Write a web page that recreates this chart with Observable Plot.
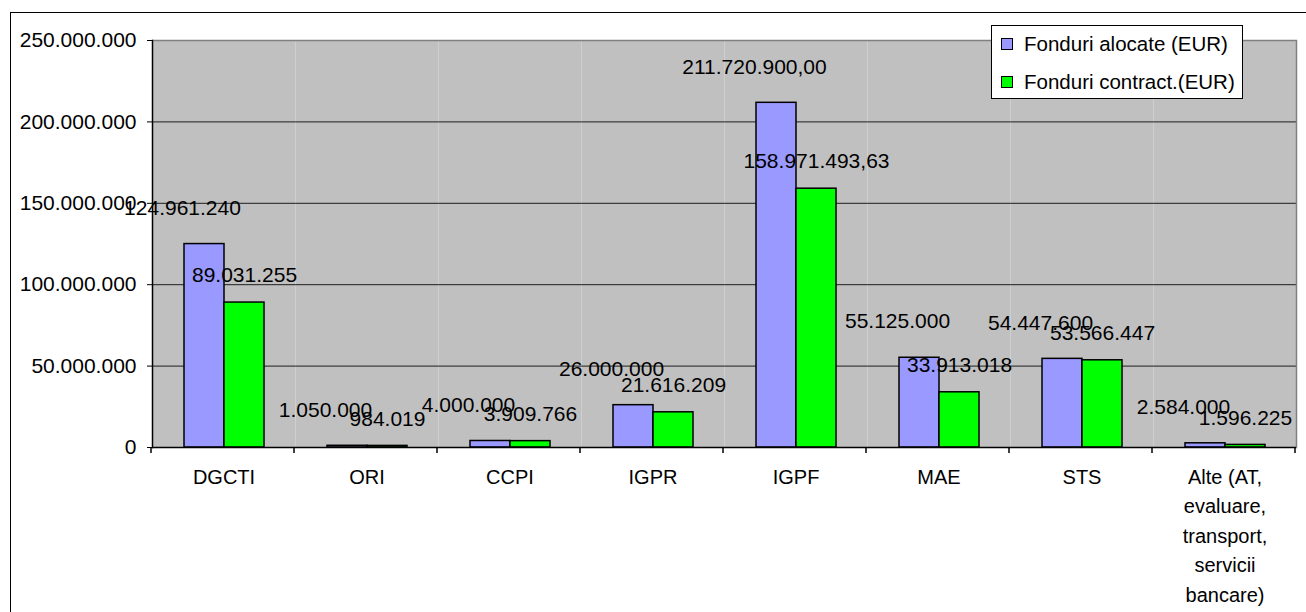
<!DOCTYPE html>
<html>
<head>
<meta charset="utf-8">
<script src="https://cdn.jsdelivr.net/npm/d3@7"></script>
<script src="https://cdn.jsdelivr.net/npm/@observablehq/plot@0.6"></script>
<style>
  html, body { margin: 0; padding: 0; background: #fff; overflow: hidden; }
  #wrap { position: relative; width: 1306px; height: 612px; overflow: hidden; font-family: "Liberation Sans", Arial, sans-serif; }
  #border { position: absolute; left: 10px; top: 12px; width: 1400px; height: 700px; border: 1px solid #000; box-sizing: border-box; }
  #chart { position: absolute; left: 0; top: 0; }
  #legend { position: absolute; left: 991px; top: 25px; width: 252px; height: 74px; border: 1px solid #000; background: #fff; box-sizing: border-box; }
  .item { position: absolute; left: 9px; display: flex; align-items: center; font-size: 20.5px; color: #000; white-space: nowrap; }
  .sw { width: 10px; height: 10px; border: 1px solid #000; margin-right: 11px; }
</style>
</head>
<body>
<div id="wrap">
  <div id="border"></div>
  <div id="chart"></div>
  <div id="legend"></div>
</div>
<script>
const categories = ["DGCTI", "ORI", "CCPI", "IGPR", "IGPF", "MAE", "STS", "Alte (AT, evaluare, transport, servicii bancare)"];
const tickLabels = ["DGCTI", "ORI", "CCPI", "IGPR", "IGPF", "MAE", "STS", "Alte (AT,\nevaluare,\ntransport,\nservicii\nbancare)"];
const series = ["Fonduri alocate (EUR)", "Fonduri contract.(EUR)"];
const colors = ["#9999FF", "#00FF00"];
const alocate = [124961240, 1050000, 4000000, 26000000, 211720900.00, 55125000, 54447600, 2584000];
const contractate = [89031255, 984019, 3909766, 21616209, 158971493.63, 33913018, 53566447, 1596225];
const alocateLabels = ["124.961.240", "1.050.000", "4.000.000", "26.000.000", "211.720.900,00", "55.125.000", "54.447.600", "2.584.000"];
const contractLabels = ["89.031.255", "984.019", "3.909.766", "21.616.209", "158.971.493,63", "33.913.018", "53.566.447", "1.596.225"];
const yTicks = [0, 50000000, 100000000, 150000000, 200000000, 250000000];

const rows = [];
categories.forEach((c, i) => {
  rows.push({category: c, series: series[0], value: alocate[i], label: alocateLabels[i]});
  rows.push({category: c, series: series[1], value: contractate[i], label: contractLabels[i]});
});
const rowsA = rows.filter(d => d.series === series[0]);
const rowsC = rows.filter(d => d.series === series[1]);

const loc = d3.formatLocale({decimal: ",", thousands: ".", grouping: [3], currency: ["", ""]});
const fmt = loc.format(",");

const plot = Plot.plot({
  width: 1306,
  height: 612,
  marginLeft: 151,
  marginRight: 9,
  marginTop: 40,
  marginBottom: 165,
  style: {fontFamily: "'Liberation Sans', Arial, sans-serif", fontSize: "21px", color: "#000", background: "transparent"},
  fx: {domain: categories, padding: 0, label: null},
  x: {domain: series, paddingInner: 0, paddingOuter: 0.77, axis: null},
  y: {domain: [0, 250000000], label: null},
  color: {domain: series, range: colors},
  marks: [
    Plot.frame({fill: "#C0C0C0", stroke: null}),
    Plot.gridY(yTicks, {stroke: "#000", strokeOpacity: 0.85, strokeWidth: 1}),
    Plot.ruleY([250000000], {stroke: "#808080", strokeWidth: 1.5}),
    Plot.frame({anchor: "right", stroke: "#808080", strokeWidth: 1.5, fx: [categories[categories.length - 1]]}),
    Plot.barY(rows, {fx: "category", x: "series", y: "value", fill: "series", stroke: "#000", strokeWidth: 1.5}),
    Plot.ruleY([0], {stroke: "#000", strokeWidth: 1.5}),
    Plot.frame({anchor: "left", stroke: "#000", strokeWidth: 1.5, fx: [categories[0]]}),
    Plot.axisY(yTicks, {tickFormat: fmt, tickSize: 5, tickPadding: 11, fontSize: 21, label: null, stroke: "#000"}),
    Plot.axisFx({anchor: "bottom", tickSize: 0, tickPadding: 15, fontSize: 20, lineHeight: 1.48, label: null,
      tickFormat: (d) => tickLabels[categories.indexOf(d)]}),
    Plot.text(rowsA, {fx: "category", x: "series", y: "value", text: "label", dx: -22, dy: -36, fontSize: 21, fill: "#000"}),
    Plot.text(rowsC, {fx: "category", x: "series", y: "value", text: "label", dy: -27, fontSize: 21, fill: "#000"})
  ]
});
document.getElementById("chart").appendChild(plot);

// category boundary ticks on the bottom axis, from the library's fx and y scales
const fxs = plot.scale("fx");
const ys = plot.scale("y");
const step = fxs.step !== undefined ? fxs.step : (fxs.range[1] - fxs.range[0]) / categories.length;
const y0 = ys.apply(0);
const svg = d3.select(plot);
for (let i = 0; i <= categories.length; i++) {
  const x = fxs.range[0] + i * step;
  svg.append("line").attr("x1", x).attr("x2", x).attr("y1", y0).attr("y2", y0 + 6)
    .attr("stroke", "#000").attr("stroke-width", 1.5);
}

// legend
const legend = document.getElementById("legend");
series.forEach((s, i) => {
  const it = document.createElement("div");
  it.className = "item";
  it.style.top = (i === 0 ? 5 : 43) + "px";
  it.style.height = "26px";
  const sw = document.createElement("div");
  sw.className = "sw";
  sw.style.background = colors[i];
  const tx = document.createElement("span");
  tx.textContent = s;
  it.appendChild(sw);
  it.appendChild(tx);
  legend.appendChild(it);
});
</script>
</body>
</html>
